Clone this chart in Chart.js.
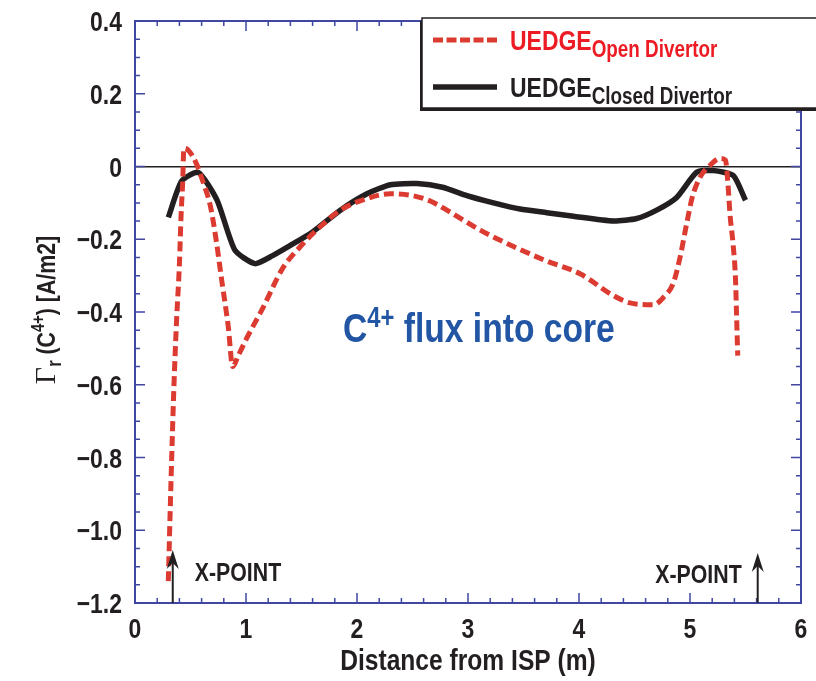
<!DOCTYPE html>
<html lang="en">
<head>
    <meta charset="UTF-8">
    <title>C4+ flux</title>
    <style>
        body { margin: 0; background: #fff; }
        #c { display: block; }
    </style>
</head>
<body>
    <canvas id="c" width="816" height="681"></canvas>
    <script src="https://cdn.jsdelivr.net/npm/chart.js"></script>
    <script>
        // values
        const xOpen = [0.30, 0.325, 0.35, 0.375, 0.40, 0.415, 0.43, 0.44, 0.48, 0.55, 0.61, 0.68, 0.73, 0.78, 0.84, 0.88,
            0.93, 1.01, 1.15, 1.33, 1.49, 1.67, 1.85, 2.07, 2.30, 2.50, 2.66, 2.81, 3.11, 3.41, 3.71, 4.01, 4.31, 4.46,
            4.67, 4.76, 4.85, 4.91, 4.97, 5.02, 5.09, 5.18, 5.27, 5.32, 5.34, 5.36, 5.39, 5.41, 5.42, 5.43]
        const yOpen = [-1.14, -0.86, -0.61, -0.42, -0.27, -0.135, -0.04, 0.05, 0.045, 0.01, -0.04, -0.11, -0.20, -0.31, -0.44, -0.55,
            -0.52, -0.47, -0.39, -0.28, -0.22, -0.165, -0.12, -0.09, -0.075, -0.08, -0.095, -0.12, -0.175, -0.22, -0.26, -0.295, -0.355, -0.375,
            -0.38, -0.36, -0.32, -0.25, -0.157, -0.085, -0.03, 0.003, 0.022, 0.017, -0.04, -0.13, -0.22, -0.31, -0.415, -0.52]

        const xClosed = [0.30, 0.42, 0.57, 0.74, 0.90, 1.08, 1.24, 1.40, 1.60, 1.85, 2.09, 2.30, 2.54, 2.77, 2.99, 3.23, 3.47,
            3.71, 3.95, 4.31, 4.52, 4.70, 4.88, 5.06, 5.21, 5.39, 5.50]
        const yClosed = [-0.14, -0.04, -0.016, -0.093, -0.23, -0.267, -0.245, -0.217, -0.18, -0.12, -0.075, -0.05, -0.047, -0.057, -0.08, -0.10, -0.117,
            -0.127, -0.137, -0.15, -0.143, -0.12, -0.085, -0.016, -0.011, -0.025, -0.093]

        const xTickValues = [0, 1, 2, 3, 4, 5, 6]
        const xTickLabels = ['0', '1', '2', '3', '4', '5', '6']
        const yTickValues = [0.4, 0.2, 0, -0.2, -0.4, -0.6, -0.8, -1.0, -1.2]
        const yTickLabels = ['0.4', '0.2', '0', '\u22120.2', '\u22120.4', '\u22120.6', '\u22120.8', '\u22121.0', '\u22121.2']
        const xPointMarks = [0.34, 5.61]

        const legendNames = ['Open Divertor', 'Closed Divertor']

        function fontExists(name) {
            const c = document.createElement('canvas').getContext('2d')
            const probe = 'UEDGE Divertor 0123'
            c.font = 'bold 40px monospace'
            const a = c.measureText(probe).width
            c.font = 'bold 40px "' + name + '", monospace'
            return c.measureText(probe).width !== a
        }
        const NARROW = fontExists('Liberation Sans Narrow')
        const FAM = NARROW ? '"Liberation Sans Narrow"' : '"Liberation Sans", Arial, sans-serif'
        const SX = NARROW ? 1 : 0.82
        const INK = '#231f20'
        const FRAME = '#3f47a3'

        function fontOf(r) {
            return (r.weight || 'bold') + ' ' + r.size + 'px ' + (r.family || FAM)
        }

        // draws a row of text pieces (for sub/superscripts)
        function drawRuns(ctx, runs, x, y, align) {
            let w = 0
            runs.forEach(r => {
                ctx.font = fontOf(r)
                r.w = ctx.measureText(r.t).width * (r.sx ?? SX)
                w += r.w
            })
            let cx = align === 'right' ? x - w : align === 'center' ? x - w / 2 : x
            runs.forEach(r => {
                ctx.save()
                ctx.font = fontOf(r)
                ctx.fillStyle = r.color || INK
                ctx.textAlign = 'left'
                ctx.textBaseline = 'alphabetic'
                ctx.translate(cx, y + (r.dy || 0))
                ctx.scale(r.sx ?? SX, 1)
                ctx.fillText(r.t, 0, 0)
                ctx.restore()
                cx += r.w
            })
        }

        const decor = {
            id: 'decor',
            afterDatasetsDraw(chart) {
                const ctx = chart.ctx
                const xs = chart.scales.x, ys = chart.scales.y
                const a = chart.chartArea
                ctx.save()

                // frame
                ctx.strokeStyle = FRAME
                ctx.lineWidth = 2
                ctx.strokeRect(a.left, a.top, a.right - a.left, a.bottom - a.top)

                // ticks, inward on all four sides
                ctx.lineWidth = 1.5
                ctx.beginPath()
                for (let i = 0; i <= 30; i++) {
                    const v = xs.min + i * 0.2
                    const px = xs.getPixelForValue(v)
                    const len = i % 5 === 0 ? 10 : 5
                    ctx.moveTo(px, a.bottom); ctx.lineTo(px, a.bottom - len)
                    ctx.moveTo(px, a.top); ctx.lineTo(px, a.top + len)
                }
                for (let i = 0; i <= 32; i++) {
                    const v = ys.min + i * 0.05
                    const py = ys.getPixelForValue(v)
                    const len = i % 4 === 0 ? 10 : 5
                    ctx.moveTo(a.left, py); ctx.lineTo(a.left + len, py)
                    ctx.moveTo(a.right, py); ctx.lineTo(a.right - len, py)
                }
                ctx.stroke()

                // tick labels
                xTickValues.forEach((v, i) => {
                    drawRuns(ctx, [{ t: xTickLabels[i], size: 28 }], xs.getPixelForValue(v), 638, 'center')
                })
                yTickValues.forEach((v, i) => {
                    drawRuns(ctx, [{ t: yTickLabels[i], size: 28 }], 122, ys.getPixelForValue(v) + 10, 'right')
                })

                // axis titles
                drawRuns(ctx, [{ t: 'Distance from ISP (m)', size: 30 }], (a.left + a.right) / 2, 670, 'center')
                ctx.save()
                ctx.translate(55, 310)
                ctx.rotate(-Math.PI / 2)
                drawRuns(ctx, [
                    { t: '\u0393', size: 30, weight: 'normal', family: '"Liberation Serif", serif', sx: 1 },
                    { t: 'r', size: 20, dy: 6 },
                    { t: ' (C', size: 26 },
                    { t: '4+', size: 18, dy: -11 },
                    { t: ') [A/m2]', size: 26 }
                ], 0, 0, 'center')
                ctx.restore()

                // X-point arrows
                ctx.strokeStyle = INK
                ctx.fillStyle = INK
                ctx.lineWidth = 2
                const tips = [550, 553]
                xPointMarks.forEach((v, i) => {
                    const px = xs.getPixelForValue(v)
                    const tip = tips[i]
                    ctx.beginPath()
                    ctx.moveTo(px, a.bottom); ctx.lineTo(px, tip + 6)
                    ctx.stroke()
                    ctx.beginPath()
                    ctx.moveTo(px, tip)
                    ctx.lineTo(px - 6, tip + 19)
                    ctx.lineTo(px, tip + 13)
                    ctx.lineTo(px + 6, tip + 19)
                    ctx.closePath()
                    ctx.fill()
                })
                drawRuns(ctx, [{ t: 'X-POINT', size: 26 }], xs.getPixelForValue(xPointMarks[0]) + 22, 581, 'left')
                drawRuns(ctx, [{ t: 'X-POINT', size: 26 }], xs.getPixelForValue(xPointMarks[1]) - 16, 583, 'right')

                // annotation
                const blue = '#2255a4'
                drawRuns(ctx, [
                    { t: 'C', size: 41, color: blue },
                    { t: '4+', size: 29, dy: -15, color: blue },
                    { t: ' flux into core', size: 41, color: blue }
                ], 343, 342, 'left')

                // legend box
                ctx.fillStyle = INK
                ctx.fillRect(420, 21, 420, 90)
                ctx.fillStyle = '#fff'
                ctx.fillRect(422, 18, 420, 90)
                ctx.strokeStyle = INK
                ctx.lineWidth = 1.5
                ctx.strokeRect(422, 18, 420, 90)

                const rows = [40, 87]
                chart.data.datasets.forEach((ds, i) => {
                    ctx.save()
                    ctx.strokeStyle = ds.borderColor
                    ctx.lineWidth = ds.borderWidth
                    ctx.setLineDash(i === 0 ? [10, 3.5] : [])
                    ctx.beginPath()
                    ctx.moveTo(433, rows[i]); ctx.lineTo(497, rows[i])
                    ctx.stroke()
                    ctx.restore()
                    const col = i === 0 ? '#ed1c24' : INK
                    drawRuns(ctx, [
                        { t: 'UEDGE', size: 28, color: col },
                        { t: legendNames[i], size: 23, dy: 7, color: col }
                    ], 510, rows[i] + 10, 'left')
                })

                ctx.restore()
            }
        }

        const ctx = document.getElementById('c')
        const chart = new Chart(ctx, {
            type: 'line',
            data: {
                datasets: [{
                    label: 'UEDGE Open Divertor',
                    data: xOpen.map((x, i) => ({ x: x, y: yOpen[i] })),
                    borderColor: '#dc3b31',
                    borderWidth: 5,
                    borderDash: [10, 5],
                    pointRadius: 0,
                    cubicInterpolationMode: 'monotone',
                    fill: false
                }, {
                    label: 'UEDGE Closed Divertor',
                    data: xClosed.map((x, i) => ({ x: x, y: yClosed[i] })),
                    borderColor: INK,
                    borderWidth: 5.5,
                    pointRadius: 0,
                    tension: 0.2,
                    fill: false
                }]
            },
            options: {
                responsive: false,
                animation: false,
                devicePixelRatio: 1,
                layout: { padding: { left: 0, right: 15, top: 21, bottom: 0 } },
                plugins: { legend: { display: false }, tooltip: { enabled: false } },
                scales: {
                    x: {
                        type: 'linear', min: 0, max: 6,
                        ticks: { display: false, stepSize: 1 },
                        grid: { display: false },
                        border: { display: false },
                        afterFit: s => { s.height = 78 }
                    },
                    y: {
                        type: 'linear', min: -1.2, max: 0.4,
                        ticks: { display: false, stepSize: 0.2 },
                        grid: {
                            drawTicks: false,
                            lineWidth: 1.5,
                            color: c => Math.abs(c.tick.value) < 1e-9 ? INK : 'transparent'
                        },
                        border: { display: false },
                        afterFit: s => { s.width = 135 }
                    }
                }
            },
            plugins: [decor]
        })
    </script>
</body>
</html>
